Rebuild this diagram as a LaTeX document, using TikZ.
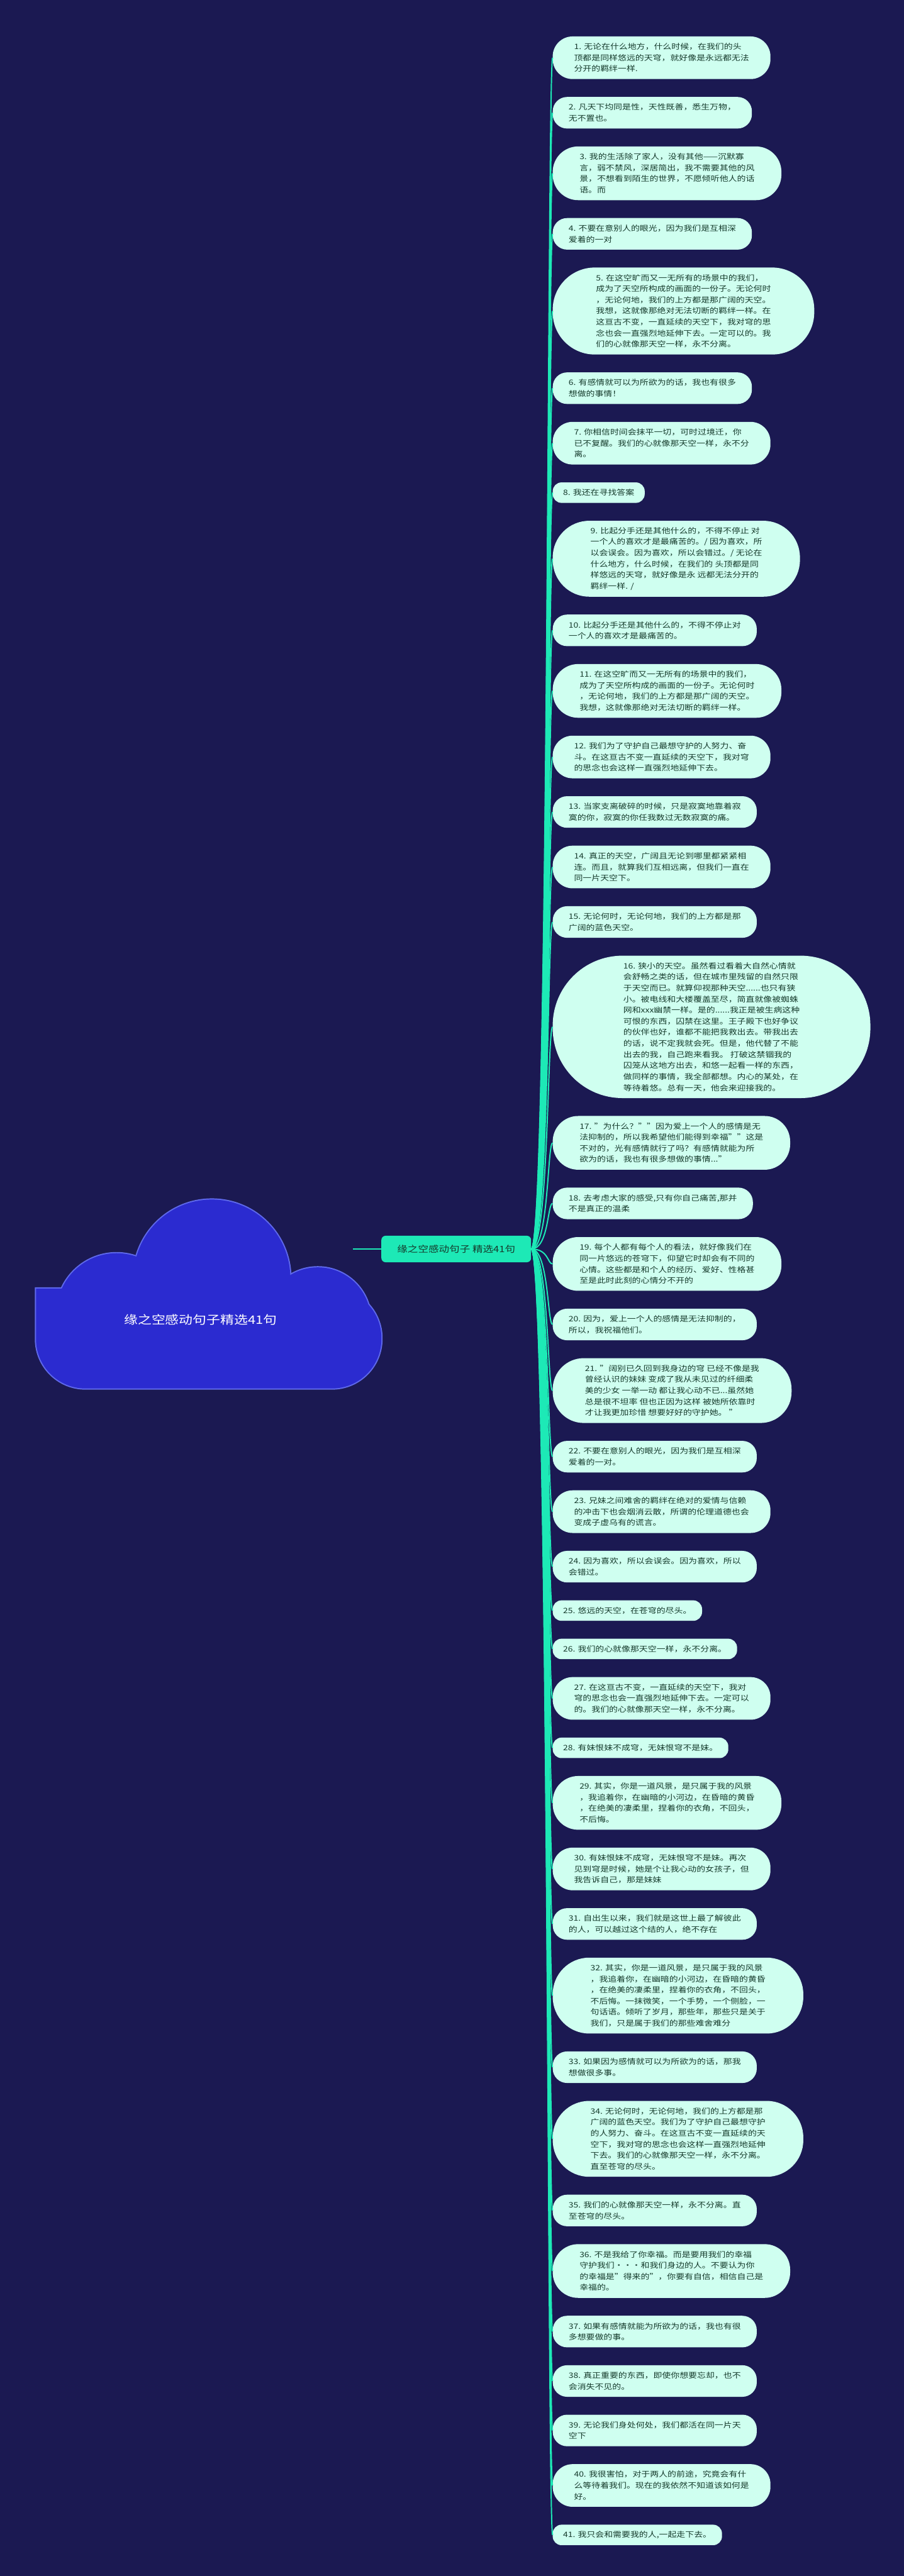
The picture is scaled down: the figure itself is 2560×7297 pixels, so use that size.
\documentclass[tikz,border=0pt]{standalone}
\usepackage{fontspec}
\setmainfont{Noto Sans CJK SC}[FakeStretch=1.18]
\usetikzlibrary{positioning}
\definecolor{bg}{RGB}{27,25,82}
\definecolor{leaffill}{RGB}{207,255,240}
\definecolor{leaftext}{RGB}{22,58,44}
\definecolor{conn}{RGB}{29,233,182}
\definecolor{cloudfill}{RGB}{43,43,208}
\definecolor{cloudline}{RGB}{95,105,235}
\definecolor{ctrfill}{RGB}{29,233,182}
\newcommand\leaffont{\fontsize{21pt}{31.4pt}\selectfont}
\tikzset{
 leaf/.style={fill=leaffill, text=leaftext, align=left, font=\leaffont,
   inner ysep=0pt, inner xsep={14pt+15.5pt*#1}, minimum height={26.6pt+31.4pt*#1},
   rounded corners={9.3pt+15.7pt*#1}, anchor=north west},
 link/.style={draw=conn, line width=3.5pt},
 ctrbox/.style={fill=ctrfill, text=leaftext, rounded corners=12pt, minimum width=424pt,
   minimum height=75pt, inner sep=0pt, font=\fontsize{25pt}{30pt}\selectfont},
 rootlabel/.style={text=white, font=\fontsize{33pt}{40pt}\selectfont, inner sep=0pt},
}
\begin{document}
\begin{tikzpicture}[x=1pt,y=-1pt]
\fill[bg] (0,0) rectangle (2560,7297);
\useasboundingbox (0,0) rectangle (2560,7297);
% cloud
\begin{scope}
\foreach \s in {cloudline}{
 \draw[\s, line width=7pt, fill=\s] (102,3650) [rounded corners=140pt] -- (102,3933) -- (1080,3933) -- (1080,3650) [sharp corners] -- cycle;
 \draw[\s, line width=7pt, fill=\s] (600,3620) circle[radius=222];
 \draw[\s, line width=7pt, fill=\s] (330,3720) circle[radius=170];
 \draw[\s, line width=7pt, fill=\s] (900,3740) circle[radius=150];
}
\fill[cloudfill] (102,3650) [rounded corners=140pt] -- (102,3933) -- (1080,3933) -- (1080,3650) [sharp corners] -- cycle;
\fill[cloudfill] (600,3620) circle[radius=222];
\fill[cloudfill] (330,3720) circle[radius=170];
\fill[cloudfill] (900,3740) circle[radius=150];
\end{scope}
\node[rootlabel] (root) at (568,3738) {缘之空感动句子精选41句};
\node[ctrbox] (c) at (1292,3538) {缘之空感动句子 精选41句};
\draw[link] (1000,3538) -- (c.west);

\node[leaf=3] (n1) at (1565,103) {1. 无论在什么地方，什么时候，在我们的头\\顶都是同样悠远的天穹，就好像是永远都无法\\分开的羁绊一样.};
\node[leaf=2] (n2) at ([yshift=-50.3pt]n1.south west) {2. 凡天下均同是性，天性既善，悉生万物，\\无不置也。};
\node[leaf=4] (n3) at ([yshift=-50.3pt]n2.south west) {3. 我的生活除了家人，没有其他——沉默寡\\言，弱不禁风，深居简出，我不需要其他的风\\景，不想看到陌生的世界，不愿倾听他人的话\\语。而};
\node[leaf=2] (n4) at ([yshift=-50.3pt]n3.south west) {4. 不要在意别人的眼光，因为我们是互相深\\爱着的一对};
\node[leaf=7] (n5) at ([yshift=-50.3pt]n4.south west) {5. 在这空旷而又一无所有的场景中的我们，\\成为了天空所构成的画面的一份子。无论何时\\，无论何地，我们的上方都是那广阔的天空。\\我想，这就像那绝对无法切断的羁绊一样。在\\这亘古不变，一直延续的天空下，我对穹的思\\念也会一直强烈地延伸下去。一定可以的。我\\们的心就像那天空一样，永不分离。};
\node[leaf=2] (n6) at ([yshift=-50.3pt]n5.south west) {6. 有感情就可以为所欲为的话，我也有很多\\想做的事情！};
\node[leaf=3] (n7) at ([yshift=-50.3pt]n6.south west) {7. 你相信时间会抹平一切，可时过境迁，你\\已不复醒。我们的心就像那天空一样，永不分\\离。};
\node[leaf=1] (n8) at ([yshift=-50.3pt]n7.south west) {8. 我还在寻找答案};
\node[leaf=6] (n9) at ([yshift=-50.3pt]n8.south west) {9. 比起分手还是其他什么的，不得不停止 对\\一个人的喜欢才是最痛苦的。/ 因为喜欢，所\\以会误会。因为喜欢，所以会错过。/ 无论在\\什么地方，什么时候，在我们的 头顶都是同\\样悠远的天穹，就好像是永 远都无法分开的\\羁绊一样. /};
\node[leaf=2] (n10) at ([yshift=-50.3pt]n9.south west) {10. 比起分手还是其他什么的，不得不停止对\\一个人的喜欢才是最痛苦的。};
\node[leaf=4] (n11) at ([yshift=-50.3pt]n10.south west) {11. 在这空旷而又一无所有的场景中的我们，\\成为了天空所构成的画面的一份子。无论何时\\，无论何地，我们的上方都是那广阔的天空。\\我想，这就像那绝对无法切断的羁绊一样。};
\node[leaf=3] (n12) at ([yshift=-50.3pt]n11.south west) {12. 我们为了守护自己最想守护的人努力、奋\\斗。在这亘古不变一直延续的天空下，我对穹\\的思念也会这样一直强烈地延伸下去。};
\node[leaf=2] (n13) at ([yshift=-50.3pt]n12.south west) {13. 当家支离破碎的时候，只是寂寞地靠着寂\\寞的你，寂寞的你任我数过无数寂寞的痛。};
\node[leaf=3] (n14) at ([yshift=-50.3pt]n13.south west) {14. 真正的天空，广阔且无论到哪里都紧紧相\\连。而且，就算我们互相远离，但我们一直在\\同一片天空下。};
\node[leaf=2] (n15) at ([yshift=-50.3pt]n14.south west) {15. 无论何时，无论何地，我们的上方都是那\\广阔的蓝色天空。};
\node[leaf=12] (n16) at ([yshift=-50.3pt]n15.south west) {16. 狭小的天空。虽然看过看着大自然心情就\\会舒畅之类的话，但在城市里残留的自然只限\\于天空而已。就算仰视那种天空......也只有狭\\小。被电线和大楼覆盖至尽，简直就像被蜘蛛\\网和xxx幽禁一样。是的......我正是被生病这种\\可恨的东西，囚禁在这里。王子殿下也好争议\\的伙伴也好，谁都不能把我救出去。带我出去\\的话，说不定我就会死。但是，他代替了不能\\出去的我，自己跑来看我。 打破这禁锢我的\\囚笼从这地方出去，和悠一起看一样的东西，\\做同样的事情，我全部都想。内心的某处，在\\等待着悠。总有一天，他会来迎接我的。};
\node[leaf=4] (n17) at ([yshift=-50.3pt]n16.south west) {17. "为什么？""因为爱上一个人的感情是无\\法抑制的，所以我希望他们能得到幸福""这是\\不对的，光有感情就行了吗？有感情就能为所\\欲为的话，我也有很多想做的事情..."};
\node[leaf=2] (n18) at ([yshift=-50.3pt]n17.south west) {18. 去考虑大家的感受,只有你自己痛苦,那并\\不是真正的温柔};
\node[leaf=4] (n19) at ([yshift=-50.3pt]n18.south west) {19. 每个人都有每个人的看法，就好像我们在\\同一片悠远的苍穹下，仰望它时却会有不同的\\心情。这些都是和个人的经历、爱好、性格甚\\至是此时此刻的心情分不开的};
\node[leaf=2] (n20) at ([yshift=-50.3pt]n19.south west) {20. 因为，爱上一个人的感情是无法抑制的，\\所以，我祝福他们。};
\node[leaf=5] (n21) at ([yshift=-50.3pt]n20.south west) {21. "阔别已久回到我身边的穹 已经不像是我\\曾经认识的妹妹 变成了我从未见过的纤细柔\\美的少女 一举一动 都让我心动不已...虽然她\\总是很不坦率 但也正因为这样 被她所依靠时\\才让我更加珍惜 想要好好的守护她。 "};
\node[leaf=2] (n22) at ([yshift=-50.3pt]n21.south west) {22. 不要在意别人的眼光，因为我们是互相深\\爱着的一对。};
\node[leaf=3] (n23) at ([yshift=-50.3pt]n22.south west) {23. 兄妹之间难舍的羁绊在绝对的爱情与信赖\\的冲击下也会烟消云散，所谓的伦理道德也会\\变成子虚乌有的谎言。};
\node[leaf=2] (n24) at ([yshift=-50.3pt]n23.south west) {24. 因为喜欢，所以会误会。因为喜欢，所以\\会错过。};
\node[leaf=1] (n25) at ([yshift=-50.3pt]n24.south west) {25. 悠远的天空，在苍穹的尽头。};
\node[leaf=1] (n26) at ([yshift=-50.3pt]n25.south west) {26. 我们的心就像那天空一样，永不分离。};
\node[leaf=3] (n27) at ([yshift=-50.3pt]n26.south west) {27. 在这亘古不变，一直延续的天空下，我对\\穹的思念也会一直强烈地延伸下去。一定可以\\的。我们的心就像那天空一样，永不分离。};
\node[leaf=1] (n28) at ([yshift=-50.3pt]n27.south west) {28. 有妹恨妹不成穹，无妹恨穹不是妹。};
\node[leaf=4] (n29) at ([yshift=-50.3pt]n28.south west) {29. 其实，你是一道风景，是只属于我的风景\\，我追着你，在幽暗的小河边，在昏暗的黄昏\\，在绝美的凄柔里，捏着你的衣角，不回头，\\不后悔。};
\node[leaf=3] (n30) at ([yshift=-50.3pt]n29.south west) {30. 有妹恨妹不成穹，无妹恨穹不是妹。再次\\见到穹是时候，她是个让我心动的女孩子，但\\我告诉自己，那是妹妹};
\node[leaf=2] (n31) at ([yshift=-50.3pt]n30.south west) {31. 自出生以来，我们就是这世上最了解彼此\\的人，可以越过这个结的人，绝不存在};
\node[leaf=6] (n32) at ([yshift=-50.3pt]n31.south west) {32. 其实，你是一道风景，是只属于我的风景\\，我追着你，在幽暗的小河边，在昏暗的黄昏\\，在绝美的凄柔里，捏着你的衣角，不回头，\\不后悔。一抹微笑，一个手势，一个侧脸，一\\句话语。倾听了岁月，那些年，那些只是关于\\我们，只是属于我们的那些难舍难分};
\node[leaf=2] (n33) at ([yshift=-50.3pt]n32.south west) {33. 如果因为感情就可以为所欲为的话，那我\\想做很多事。};
\node[leaf=6] (n34) at ([yshift=-50.3pt]n33.south west) {34. 无论何时，无论何地，我们的上方都是那\\广阔的蓝色天空。我们为了守护自己最想守护\\的人努力、奋斗。在这亘古不变一直延续的天\\空下，我对穹的思念也会这样一直强烈地延伸\\下去。我们的心就像那天空一样，永不分离。\\直至苍穹的尽头。};
\node[leaf=2] (n35) at ([yshift=-50.3pt]n34.south west) {35. 我们的心就像那天空一样，永不分离。直\\至苍穹的尽头。};
\node[leaf=4] (n36) at ([yshift=-50.3pt]n35.south west) {36. 不是我给了你幸福。而是要用我们的幸福\\守护我们・・・和我们身边的人。不要认为你\\的幸福是"得来的"，你要有自信，相信自己是\\幸福的。};
\node[leaf=2] (n37) at ([yshift=-50.3pt]n36.south west) {37. 如果有感情就能为所欲为的话，我也有很\\多想要做的事。};
\node[leaf=2] (n38) at ([yshift=-50.3pt]n37.south west) {38. 真正重要的东西，即使你想要忘却，也不\\会消失不见的。};
\node[leaf=2] (n39) at ([yshift=-50.3pt]n38.south west) {39. 无论我们身处何处，我们都活在同一片天\\空下};
\node[leaf=3] (n40) at ([yshift=-50.3pt]n39.south west) {40. 我很害怕，对于两人的前途，究竟会有什\\么等待着我们。现在的我依然不知道该如何是\\好。};
\node[leaf=1] (n41) at ([yshift=-50.3pt]n40.south west) {41. 我只会和需要我的人,一起走下去。};

\foreach \i in {1,...,41}{
 \draw[link] (c.east) .. controls +(50,0) and +(-15,0) .. (n\i.west);
}
\end{tikzpicture}
\end{document}
